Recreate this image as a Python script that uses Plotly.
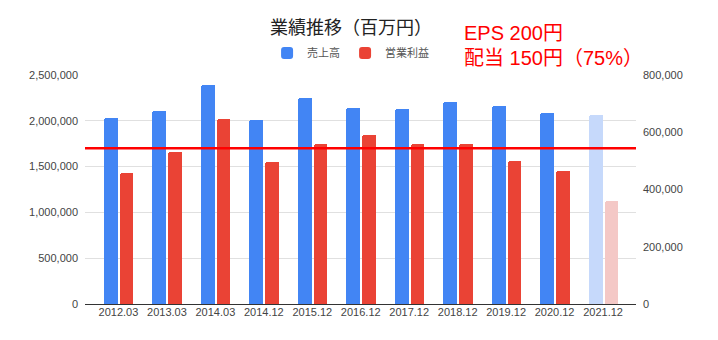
import plotly.graph_objects as go

categories = ["2012.03", "2013.03", "2014.03", "2014.12", "2015.12", "2016.12",
              "2017.12", "2018.12", "2019.12", "2020.12", "2021.12"]
sales = [2030000, 2110000, 2395000, 2005000, 2245000, 2140000,
         2130000, 2210000, 2165000, 2080000, 2068000]
op_profit = [457000, 530000, 646000, 497000, 560000, 589000,
             558000, 560000, 501000, 466000, 359000]
target_line = 1700000
left_ticks = [0, 500000, 1000000, 1500000, 2000000, 2500000]
right_ticks = [0, 200000, 400000, 600000, 800000]

BLUE, BLUE_FADED = "#4285F4", "#C6D9FB"
RED, RED_FADED = "#EA4335", "#F4C8C6"
blue_colors = [BLUE] * (len(categories) - 1) + [BLUE_FADED]
red_colors = [RED] * (len(categories) - 1) + [RED_FADED]

FONT = "Liberation Sans, Arial, Noto Sans CJK JP, sans-serif"

fig = go.Figure()
fig.add_trace(go.Bar(x=categories, y=sales, name="売上高",
                     marker=dict(color=blue_colors, line=dict(width=0), cornerradius=2),
                     width=0.29, offset=-0.30, yaxis="y"))
fig.add_trace(go.Bar(x=categories, y=op_profit, name="営業利益",
                     marker=dict(color=red_colors, line=dict(width=0), cornerradius=2),
                     width=0.28, offset=0.03, yaxis="y2"))

fig.add_shape(type="line", xref="paper", yref="y", x0=0, x1=1,
              y0=target_line, y1=target_line, line=dict(color="#FF0000", width=2.5))

fig.update_layout(
    width=718, height=340,
    margin=dict(l=85, r=82, t=75, b=36),
    paper_bgcolor="white", plot_bgcolor="white",
    font=dict(family=FONT, size=11, color="#444"),
    title=dict(text="業績推移（百万円）", x=0.489, xanchor="center", y=0.92, yanchor="middle",
               font=dict(size=18, color="#222", family=FONT)),
    showlegend=True,
    legend=dict(orientation="h", x=0.482, xanchor="center", y=1.096, yanchor="middle",
                font=dict(size=11, color="#555"), itemwidth=30, traceorder="normal"),
    bargap=0,
    xaxis=dict(range=[-0.69, 10.68], showgrid=False, showline=False, ticks="",
               tickfont=dict(size=11, color="#444"), fixedrange=True),
    yaxis=dict(range=[0, 2500000], tickvals=left_ticks, tickformat=",d",
               showgrid=True, gridcolor="#E0E0E0", gridwidth=1,
               zeroline=True, zerolinecolor="#333", zerolinewidth=1,
               tickfont=dict(size=11, color="#444"), ticks="", ticklabelstandoff=6),
    yaxis2=dict(range=[0, 800000], tickvals=right_ticks, tickformat=",d",
                overlaying="y", side="right", showgrid=False, zeroline=False,
                tickfont=dict(size=11, color="#444"), ticks="", ticklabelstandoff=6),
)

fig.add_annotation(text="EPS 200円", xref="paper", yref="paper", x=0.685, y=1.183,
                   xanchor="left", yanchor="middle", showarrow=False,
                   font=dict(size=20, color="#FF0000", family=FONT))
fig.add_annotation(text="配当 150円（75%）", xref="paper", yref="paper", x=0.685, y=1.074,
                   xanchor="left", yanchor="middle", showarrow=False,
                   font=dict(size=20, color="#FF0000", family=FONT))

fig.write_html("out.html")
